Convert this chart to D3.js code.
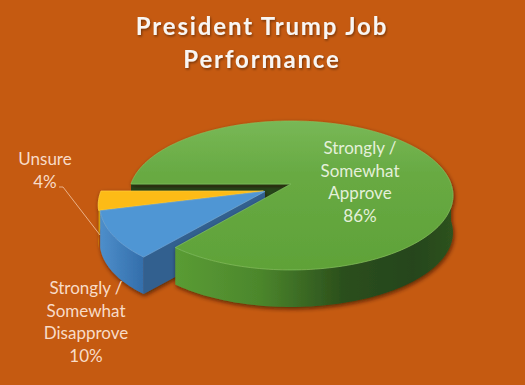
<!DOCTYPE html>
<html>
<head>
<meta charset="utf-8">
<style>
html,body{margin:0;padding:0;background:#c55a11;}
svg{display:block;}
text{font-family:Lato,"Open Sans",sans-serif;text-anchor:middle;}
.title{font-size:24px;font-weight:700;fill:#f8f6f4;letter-spacing:1.85px;}
.label{font-size:17px;}
</style>
</head>
<body>
<div id="chart"></div>
<script src="https://cdn.jsdelivr.net/npm/d3@7"></script>
<script>
var titleLines = ["President Trump Job", "Performance"];
var categories = ["Strongly / Somewhat Approve", "Strongly / Somewhat Disapprove", "Unsure"];
var values = [86, 10, 4];
var labelLines = [
    ["Strongly /", "Somewhat", "Approve", "86%"],
    ["Strongly /", "Somewhat", "Disapprove", "10%"],
    ["Unsure", "4%"]
];

var w = 525;
var h = 385;
var depth = 37; //height of the pie walls

//perspective for the tilted disc, k makes the front bigger than the back
var cx = 291, cy = 184, rx = 160, ry = 72.7, k = 0.154;
function project(u, v){
    var s = 1 + k*v;
    return [cx + rx*u/s, cy - ry*v/s];
}

//how far each slice is pulled out, in disc units
var explode = [[0, 0], [-0.16, -0.1], [-0.17, -0.095]];
var topColor = ["url(#greenTop)", "#5096d4", "#fdbb12"];
var rimColor = ["#82c25e", "#6aa8e0", "#ffd040"];
var wallColor = ["url(#greenWall)", "url(#blueWall)", "#d09a10"];
var sideColor = ["#27471a", "#33618f", "#a87c0c"];

var svg = d3.select("#chart")
            .append("svg")
            .attr("width", w)
            .attr("height", h);

var defs = svg.append("defs");

function gradient(id, x1, y1, x2, y2, stops){
    var g = defs.append("linearGradient")
        .attr("id", id)
        .attr("gradientUnits", "userSpaceOnUse")
        .attr("x1", x1).attr("y1", y1).attr("x2", x2).attr("y2", y2);
    stops.forEach(function(s){
        g.append("stop").attr("offset", s[0]).attr("stop-color", s[1]);
    });
}
gradient("greenTop", 0, 121, 0, 270, [[0, "#78b856"], [0.35, "#68aa43"], [1, "#5fa238"]]);
gradient("greenWall", 175, 0, 455, 0, [[0, "#5a9c34"], [0.3, "#4c872c"], [0.6, "#2b4f1c"], [0.85, "#25451a"], [1, "#2e5320"]]);
gradient("blueWall", 98, 0, 150, 0, [[0, "#4f90cc"], [1, "#2f69a6"]]);

var f = defs.append("filter").attr("id", "shadow")
    .attr("x", "-10%").attr("y", "-10%").attr("width", "120%").attr("height", "130%");
f.append("feDropShadow")
    .attr("dx", 1).attr("dy", 2).attr("stdDeviation", 2)
    .attr("flood-color", "#2a1000").attr("flood-opacity", 0.7);

var tf = defs.append("filter").attr("id", "titleShadow");
tf.append("feDropShadow")
    .attr("dx", 1).attr("dy", 1.5).attr("stdDeviation", 1)
    .attr("flood-color", "#000").attr("flood-opacity", 0.4);

var pie = d3.pie().sort(null)
    .startAngle(Math.PI*1.5)
    .endAngle(Math.PI*3.5);
var slices = pie(values);

var line = d3.line();

//points along the outer edge of a slice, from angle a0 on
function edge(d, i, a0){
    var start = a0 === undefined ? d.startAngle : Math.max(a0, d.startAngle);
    var n = Math.max(2, Math.ceil((d.endAngle - start)*40));
    return d3.range(n + 1).map(function(j){
        var a = start + (d.endAngle - start)*j/n;
        return project(Math.sin(a) + explode[i][0], Math.cos(a) + explode[i][1]);
    });
}
function apex(i){
    return project(explode[i][0], explode[i][1]);
}
function down(p){
    return [p[0], p[1] + depth];
}
function topPath(d, i){
    return line([apex(i)].concat(edge(d, i))) + "Z";
}
//only the front of the rim can be seen, so start it at the right hand side
function wallPath(d, i){
    var e = edge(d, i, Math.PI*2.5);
    return line(e.concat(e.map(down).reverse())) + "Z";
}
//flat cut wall below one radial edge
function cutPath(p, q){
    return line([p, q, down(q), down(p)]) + "Z";
}

function drawSlice(g, d, i){
    g.append("path").attr("d", wallPath(d, i)).attr("fill", wallColor[i]);
    g.append("path").attr("d", topPath(d, i))
        .attr("fill", topColor[i])
        .attr("stroke", rimColor[i])
        .attr("stroke-width", 0.7)
        .attr("stroke-linejoin", "round");
}

//back wall of the green slice shows through the gap
var greenEdge = edge(slices[0], 0);
svg.append("path")
    .attr("d", cutPath(apex(0), greenEdge[0]))
    .attr("fill", "#27471a");

//blue and yellow sit behind the green top
var pulled = svg.append("g").attr("filter", "url(#shadow)");
var yellowEdge = edge(slices[2], 2);
pulled.append("path")
    .attr("d", cutPath(apex(2), yellowEdge[yellowEdge.length - 1]))
    .attr("fill", sideColor[2]);
drawSlice(pulled, slices[2], 2);
var blueEdge = edge(slices[1], 1);
pulled.append("path")
    .attr("d", cutPath(apex(1), blueEdge[0]))
    .attr("fill", sideColor[1]);
drawSlice(pulled, slices[1], 1);

var green = svg.append("g").attr("filter", "url(#shadow)");
drawSlice(green, slices[0], 0);

//title
svg.selectAll("text.title")
    .data(titleLines)
    .enter().append("text")
    .attr("class", "title")
    .attr("x", 262)
    .attr("y", function(d, i){ return 35 + i*33; })
    .attr("filter", "url(#titleShadow)")
    .text(function(d){ return d; });

//labels, one block per category
var labelPos = [[360, 154, "#e4f0da"], [86, 294, "#f8dcc8"], [45, 165, "#f8dcc8"]];
categories.forEach(function(c, i){
    svg.selectAll("text.l" + i)
        .data(labelLines[i])
        .enter().append("text")
        .attr("class", "label l" + i)
        .attr("x", labelPos[i][0])
        .attr("y", function(d, j){ return labelPos[i][1] + j*22.6; })
        .attr("fill", labelPos[i][2])
        .text(function(d){ return d; });
});

//leader from the 4% label to its slice
svg.append("path")
    .attr("d", line([[59, 187], [63, 187], [100, 235]]))
    .attr("fill", "none")
    .attr("stroke", "#f3c7a6")
    .attr("stroke-width", 0.8);
</script>
</body>
</html>
